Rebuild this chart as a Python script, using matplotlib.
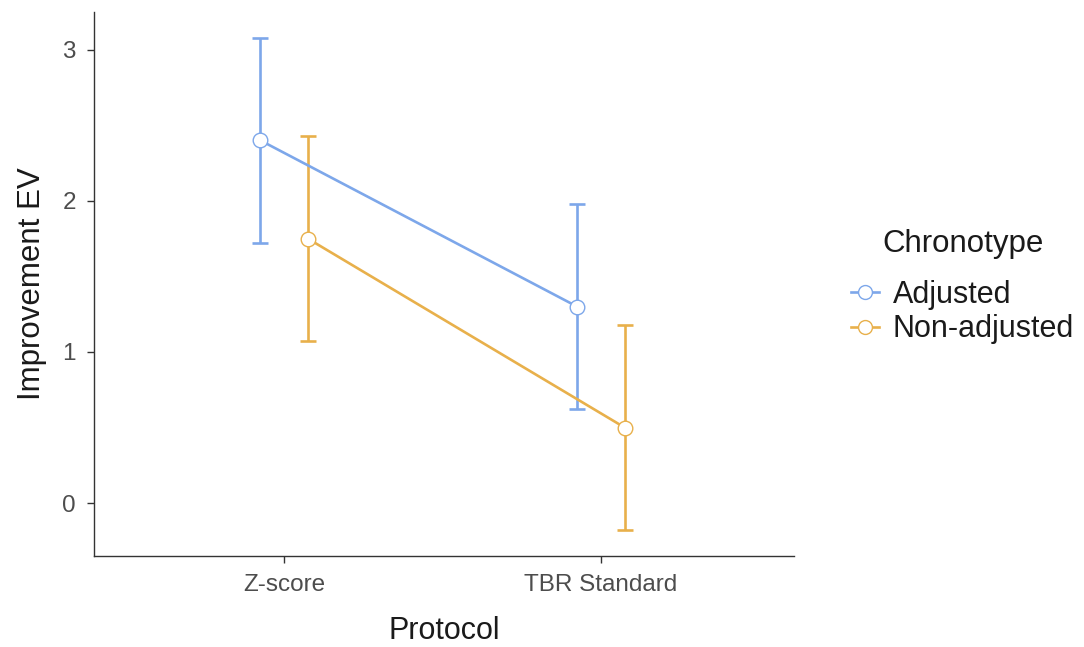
import matplotlib
matplotlib.use("Agg")
import matplotlib.pyplot as plt
from matplotlib.lines import Line2D

plt.rcParams['font.family'] = ['Liberation Sans', 'DejaVu Sans']

protocols = ["Z-score", "TBR Standard"]
groups = ["Adjusted", "Non-adjusted"]
means = {"Adjusted": [2.40, 1.30], "Non-adjusted": [1.75, 0.50]}
lower = {"Adjusted": [1.72, 0.62], "Non-adjusted": [1.07, -0.18]}
upper = {"Adjusted": [3.08, 1.98], "Non-adjusted": [2.43, 1.18]}
colors = {"Adjusted": "#7DA7EA", "Non-adjusted": "#E8B04B"}
offsets = {"Adjusted": -0.075, "Non-adjusted": 0.075}

fig = plt.figure(figsize=(10.84, 6.47), dpi=100)
ax = fig.add_axes([0.0867, 0.1406, 0.646, 0.841])

handles = []
for g in groups:
    xs = [i + 1 + offsets[g] for i in range(len(protocols))]
    m = means[g]
    yerr = [[m[i] - lower[g][i] for i in range(len(m))],
            [upper[g][i] - m[i] for i in range(len(m))]]
    ax.errorbar(xs, m, yerr=yerr, fmt='none', ecolor=colors[g],
                elinewidth=1.9, capsize=5.8, capthick=1.9, zorder=2)
    ax.plot(xs, m, color=colors[g], lw=1.9, zorder=3)
    ax.plot(xs, m, 'o', ms=10.5, mfc='white', mec=colors[g], mew=1.0, zorder=4)
    handles.append(Line2D([0], [0], color=colors[g], lw=1.9, marker='o',
                          ms=10, mfc='white', mec=colors[g], mew=1.0))

ax.set_xlim(0.4, 2.61)
ax.set_ylim(-0.35, 3.25)
ax.set_xticks([1, 2])
ax.set_xticklabels(protocols)
ax.set_yticks([0, 1, 2, 3])
for s in ['top', 'right']:
    ax.spines[s].set_visible(False)
for s in ['left', 'bottom']:
    ax.spines[s].set_color('#333333')
    ax.spines[s].set_linewidth(1.0)
ax.tick_params(axis='both', colors='#333333', labelcolor='#4D4D4D',
               labelsize=17.5, length=5, width=1.0, pad=8)
ax.set_xlabel("Protocol", fontsize=22, color='#1a1a1a', labelpad=14)
ax.set_ylabel("Improvement EV", fontsize=22.5, color='#1a1a1a', labelpad=11)

leg = fig.legend(handles, groups, title="Chronotype", loc='center left',
                 bbox_to_anchor=(0.76, 0.557), frameon=False, fontsize=22,
                 title_fontsize=22.5, handlelength=0.9, handletextpad=0.45,
                 labelspacing=0.15)
leg.get_title().set_color('#1a1a1a')
leg._legend_box.sep = 15
for t in leg.get_texts():
    t.set_color('#1a1a1a')

fig.savefig("out.png", dpi=100)
